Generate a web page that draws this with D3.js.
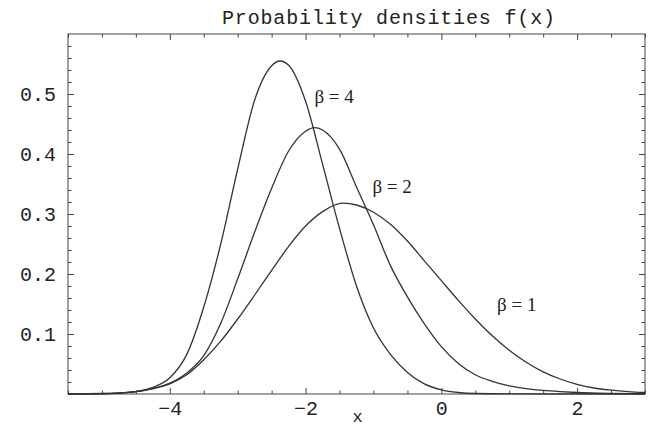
<!DOCTYPE html>
<html>
<head>
<meta charset="utf-8">
<script src="https://cdn.jsdelivr.net/npm/d3@7"></script>
<style>
  html, body { margin: 0; padding: 0; background: #fff; }
  svg { display: block; }
</style>
</head>
<body>
<svg id="chart" width="652" height="429"></svg>
<script>
// Density curves f(x) for three values of beta
const beta1X = [-5.5, -5, -4.5, -4.25, -4, -3.75, -3.5, -3.25, -3, -2.75, -2.5, -2.25, -2, -1.75, -1.45, -1.25, -1, -0.75, -0.5, -0.25, 0, 0.25, 0.5, 0.75, 1, 1.25, 1.5, 1.75, 2, 2.25, 2.5, 2.75, 3];
const beta1Y = [0.0002, 0.0008, 0.004, 0.009, 0.017, 0.032, 0.057, 0.088, 0.125, 0.165, 0.206, 0.246, 0.280, 0.304, 0.318, 0.315, 0.303, 0.283, 0.255, 0.222, 0.189, 0.156, 0.125, 0.097, 0.073, 0.053, 0.037, 0.025, 0.016, 0.010, 0.0065, 0.004, 0.0025];

const beta2X = [-5.5, -5, -4.5, -4.25, -4, -3.75, -3.5, -3.25, -3, -2.75, -2.5, -2.25, -2, -1.87, -1.75, -1.5, -1.25, -1, -0.75, -0.5, -0.25, 0, 0.25, 0.5, 0.75, 1, 1.25, 1.5, 1.75, 2, 2.5, 3];
const beta2Y = [0.0001, 0.0006, 0.004, 0.009, 0.018, 0.035, 0.064, 0.118, 0.192, 0.270, 0.343, 0.405, 0.438, 0.444, 0.440, 0.408, 0.345, 0.282, 0.214, 0.162, 0.117, 0.079, 0.051, 0.032, 0.021, 0.0135, 0.009, 0.006, 0.004, 0.0025, 0.001, 0.0004];

const beta4X = [-5.5, -5, -4.5, -4.25, -4, -3.75, -3.5, -3.25, -3, -2.75, -2.5, -2.38, -2.25, -2, -1.75, -1.5, -1.25, -1, -0.75, -0.5, -0.25, 0, 0.25, 0.5, 1, 3];
const beta4Y = [0, 0.0004, 0.004, 0.011, 0.027, 0.066, 0.145, 0.250, 0.375, 0.490, 0.547, 0.555, 0.548, 0.488, 0.383, 0.276, 0.180, 0.110, 0.066, 0.036, 0.017, 0.007, 0.0025, 0.0008, 0.0001, 0];

const seriesLabels = ["\u03b2 = 1", "\u03b2 = 2", "\u03b2 = 4"];
const labelX = [0.82, -1.015, -1.87];
const labelY = [0.138, 0.335, 0.485];

const xMajorTicks = [-4, -2, 0, 2];
const xMinorTicks = [-5.5, -5, -4.5, -3.5, -3, -2.5, -1.5, -1, -0.5, 0.5, 1, 1.5, 2.5, 3];
const yMajorTicks = [0.1, 0.2, 0.3, 0.4, 0.5];
const yMinorTicks = [0.02, 0.04, 0.06, 0.08, 0.12, 0.14, 0.16, 0.18, 0.22, 0.24, 0.26, 0.28, 0.32, 0.34, 0.36, 0.38, 0.42, 0.44, 0.46, 0.48, 0.52, 0.54, 0.56, 0.58];

const titleText = "Probability densities f(x)";
const xAxisTitle = "x";

const svg = d3.select("#chart");
const plotLeft = 68, plotRight = 645, plotTop = 34, plotBottom = 394;

const x = d3.scaleLinear().domain([-5.5, 3]).range([plotLeft, plotRight]);
const y = d3.scaleLinear().domain([0, 0.6]).range([plotBottom, plotTop]);

const ink = "#222";
const mono = "'Liberation Mono', 'Courier New', monospace";

// frame
svg.append("rect")
  .attr("x", plotLeft).attr("y", plotTop)
  .attr("width", plotRight - plotLeft).attr("height", plotBottom - plotTop)
  .attr("fill", "none").attr("stroke", "#444").attr("stroke-width", 1);

// inward ticks on all four sides
const majorLen = 6, minorLen = 3.5;
function fmtMinus(d) { return d < 0 ? "\u2212" + Math.abs(d) : String(d); }

function tickGroup(axis, tx, ty) {
  const g = svg.append("g").attr("transform", `translate(${tx},${ty})`).call(axis);
  g.select(".domain").remove();
  g.selectAll("line").attr("stroke", "#444");
  return g;
}

const gB = tickGroup(d3.axisBottom(x).tickValues(xMajorTicks).tickSize(-majorLen).tickPadding(majorLen + 4).tickFormat(fmtMinus), 0, plotBottom);
gB.selectAll("text").attr("font-family", mono).attr("font-size", 20).attr("fill", ink).attr("dy", "0.55em");
tickGroup(d3.axisBottom(x).tickValues(xMinorTicks).tickSize(-minorLen).tickFormat(""), 0, plotBottom);
tickGroup(d3.axisTop(x).tickValues(xMajorTicks).tickSize(-majorLen).tickFormat(""), 0, plotTop);
tickGroup(d3.axisTop(x).tickValues(xMinorTicks).tickSize(-minorLen).tickFormat(""), 0, plotTop);

const gL = tickGroup(d3.axisLeft(y).tickValues(yMajorTicks).tickSize(-majorLen).tickPadding(majorLen + 6).tickFormat(d3.format(".1f")), plotLeft, 0);
gL.selectAll("text").attr("font-family", mono).attr("font-size", 20).attr("fill", ink);
tickGroup(d3.axisLeft(y).tickValues(yMinorTicks).tickSize(-minorLen).tickFormat(""), plotLeft, 0);
tickGroup(d3.axisRight(y).tickValues(yMajorTicks).tickSize(-majorLen).tickFormat(""), plotRight, 0);
tickGroup(d3.axisRight(y).tickValues(yMinorTicks).tickSize(-minorLen).tickFormat(""), plotRight, 0);

// curves
const series = [
  { xs: beta1X, ys: beta1Y },
  { xs: beta2X, ys: beta2Y },
  { xs: beta4X, ys: beta4Y }
];
const line = d3.line()
  .x(d => x(d[0]))
  .y(d => y(d[1]))
  .curve(d3.curveMonotoneX);

svg.append("g").selectAll("path")
  .data(series)
  .join("path")
  .attr("d", s => line(s.xs.map((v, i) => [v, s.ys[i]])))
  .attr("fill", "none")
  .attr("stroke", "#333")
  .attr("stroke-width", 1.3);

// curve labels
svg.append("g").selectAll("text")
  .data(seriesLabels)
  .join("text")
  .attr("x", (d, i) => x(labelX[i]))
  .attr("y", (d, i) => y(labelY[i]))
  .attr("font-family", "'Liberation Serif', 'Times New Roman', serif")
  .attr("font-size", 19)
  .attr("fill", ink)
  .attr("xml:space", "preserve")
  .text(d => d);

// title
svg.append("text")
  .attr("x", 222).attr("y", 24)
  .attr("font-family", mono).attr("font-size", 20)
  .attr("textLength", 333).attr("lengthAdjust", "spacing")
  .attr("fill", ink)
  .text(titleText);

// x-axis title
svg.append("text")
  .attr("x", (plotLeft + plotRight) / 2 + 1).attr("y", 422)
  .attr("text-anchor", "middle")
  .attr("font-family", mono).attr("font-size", 17)
  .attr("fill", ink)
  .text(xAxisTitle);
</script>
</body>
</html>
